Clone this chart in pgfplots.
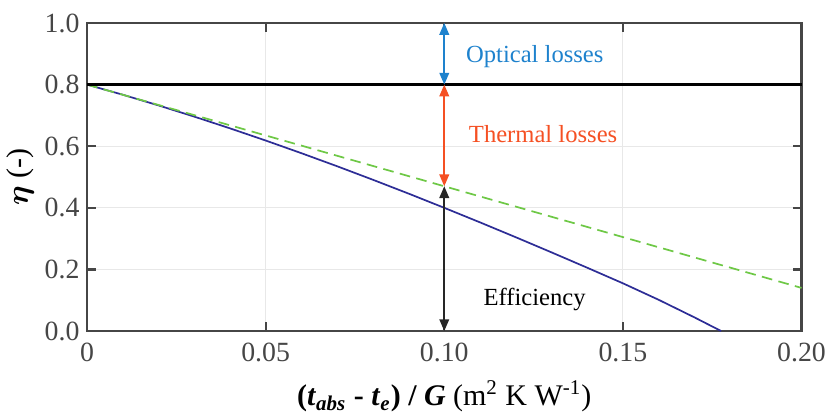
\documentclass[border=0pt]{standalone}
\usepackage{pgfplots}
\pgfplotsset{compat=1.18}
\usepackage{amsmath}
\usepackage{bm}
\usepackage{fontspec}
\setmainfont{Liberation Serif}
\usetikzlibrary{arrows.meta}
\definecolor{curveblue}{RGB}{45,45,150}
\definecolor{dashgreen}{RGB}{110,200,70}
\definecolor{optblue}{RGB}{30,130,205}
\definecolor{thermred}{RGB}{245,80,35}
\definecolor{axgray}{RGB}{70,70,70}
\begin{document}
\begin{tikzpicture}
\begin{axis}[
  scale only axis,
  width=334pt, height=144pt,
  xmin=0, xmax=0.2, ymin=0, ymax=1.0,
  xtick={0,0.05,0.10,0.15,0.20},
  xticklabels={0,0.05,0.10,0.15,0.20},
  ytick={0,0.2,0.4,0.6,0.8,1.0},
  yticklabels={0.0,0.2,0.4,0.6,0.8,1.0},
  tick align=inside,
  major tick length=4pt,
  tick style={axgray, line width=1pt},
  axis line style={axgray, line width=1.2pt},
  grid=major,
  grid style={gray!18, line width=0.5pt},
  ticklabel style={font=\fontsize{13}{15}\selectfont, text=axgray},
  xticklabel style={yshift=-2pt},
  label style={font=\fontsize{14}{16}\selectfont},
  xlabel={\textbf{(\textit{t}\textsubscript{\textit{abs}} - \textit{t}\textsubscript{\textit{e}}) / \textit{G}} (m\textsuperscript{2} K W\textsuperscript{-1})},
  ylabel={$\bm{\eta}$ (-)},
  xlabel style={yshift=-2pt},
  ylabel style={yshift=-2pt},
  clip=false,
]
% efficiency curve
\addplot[curveblue, line width=0.8pt] coordinates {
(0,0.8) (0.01,0.7672) (0.02,0.7325) (0.03,0.6961) (0.04,0.6581) (0.05,0.6185)
(0.06,0.5774) (0.07,0.5350) (0.08,0.4912) (0.09,0.4462) (0.10,0.4000)
(0.11,0.3528) (0.12,0.3046) (0.13,0.2555) (0.14,0.2056) (0.15,0.1550)
(0.16,0.1015) (0.17,0.0445) (0.1775,0.0)
};
% linear (no quadratic loss)
\addplot[dashgreen, line width=0.8pt, dash pattern=on 5pt off 3pt] coordinates {
(0,0.8) (0.2,0.14)
};
% optical limit
\addplot[black, line width=1.2pt] coordinates {(0,0.8) (0.2,0.8)};
% arrows
\addplot[optblue, line width=0.8pt, {Triangle[length=5.5pt,width=4.5pt]}-{Triangle[length=5.5pt,width=4.5pt]}] coordinates {(0.1,1.0) (0.1,0.8)};
\addplot[thermred, line width=0.8pt, {Triangle[length=5.5pt,width=4.5pt]}-{Triangle[length=5.5pt,width=4.5pt]}] coordinates {(0.1,0.8) (0.1,0.47)};
\addplot[black!85, line width=0.8pt, {Triangle[length=5.5pt,width=4.5pt]}-{Triangle[length=5.5pt,width=4.5pt]}] coordinates {(0.1,0.47) (0.1,0.0)};
\node[anchor=west, text=optblue, font=\fontsize{11.5}{13}\selectfont] at (axis cs:0.1040,0.89) {Optical losses};
\node[anchor=west, text=thermred, font=\fontsize{11.5}{13}\selectfont] at (axis cs:0.1048,0.64) {Thermal losses};
\node[anchor=center, text=black, font=\fontsize{11.5}{13}\selectfont] at (axis cs:0.1253,0.103) {Efficiency};
\end{axis}
\path (current bounding box.north) ++(0,3pt);
\end{tikzpicture}
\end{document}
